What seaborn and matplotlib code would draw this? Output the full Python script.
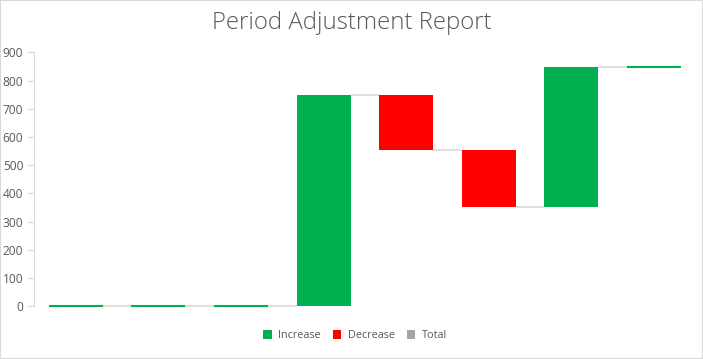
import numpy as np
import pandas as pd
import matplotlib
matplotlib.use('Agg')
import matplotlib.pyplot as plt
from matplotlib.patches import Patch
import seaborn as sns

# waterfall steps (no category labels shown on the chart)
steps = ['1', '2', '3', '4', '5', '6', '7', '8']
deltas = [0, 0, 0, 750, -197, -201, 498, 0]
legend_names = ['Increase', 'Decrease', 'Total']
legend_colors = ['#00B050', '#FF0000', '#A5A5A5']

ends = np.cumsum(deltas)
starts = ends - np.array(deltas)
df = pd.DataFrame({
    'step': steps,
    'height': np.abs(deltas),
    'bottom': np.minimum(starts, ends),
    'end': ends,
    'kind': ['Decrease' if d < 0 else 'Increase' for d in deltas],
})
bar_colors = [legend_colors[legend_names.index(k)] for k in df['kind']]

sns.set_style('white')
plt.rcParams['font.family'] = ['Open Sans', 'DejaVu Sans']

fig = plt.figure(figsize=(7.03, 3.59), dpi=100)
ax = fig.add_axes([0.049, 0.147, 0.94, 0.707])

sns.barplot(data=df, x='step', y='height', hue='step', palette=bar_colors,
            width=0.655, legend=False, saturation=1, ax=ax)

# lift each bar onto its running total
for patch, (_, row), c in zip(ax.patches, df.iterrows(), bar_colors):
    patch.set_y(row['bottom'])
    patch.set_linewidth(0)
    patch.set_clip_on(False)
    if row['height'] == 0:
        patch.set_edgecolor(c)
        patch.set_linewidth(1.5)

# connectors between bars
w = 0.655
x = np.arange(len(steps))
ax.hlines(df['end'][:-1], x[:-1] + w / 2, x[1:] - w / 2,
          color='#D9D9D9', linewidth=1.2, zorder=0, clip_on=False)

ax.set_xlim(-0.5, len(steps) - 0.5)
ax.set_ylim(0, 900)
ax.set_yticks(range(0, 901, 100))
ax.set_xticks([])
ax.set_xlabel('')
ax.set_ylabel('')
for s in ['top', 'right', 'bottom']:
    ax.spines[s].set_visible(False)
ax.spines['left'].set_color('#D9D9D9')
ax.tick_params(axis='y', which='both', left=True, length=4, width=0.8,
               color='#D9D9D9', labelcolor='#595959', labelsize=8.6, pad=4)

fig.text(0.5, 0.937, 'Period Adjustment Report', ha='center', va='center',
         fontsize=17.3, color='#595959', fontweight='light')

handles = [Patch(facecolor=c, edgecolor='none') for c in legend_colors]
fig.legend(handles, legend_names, loc='center', bbox_to_anchor=(0.505, 0.065),
           ncol=3, frameon=False, fontsize=7.8, handlelength=0.8, handleheight=0.8,
           handletextpad=0.6, columnspacing=1.1, labelcolor='#595959')

fig.patches.append(plt.Rectangle((0, 0), 1, 1, transform=fig.transFigure,
                                 fill=False, edgecolor='#D9D9D9', linewidth=1.5))

fig.savefig('out.png', dpi=100)
